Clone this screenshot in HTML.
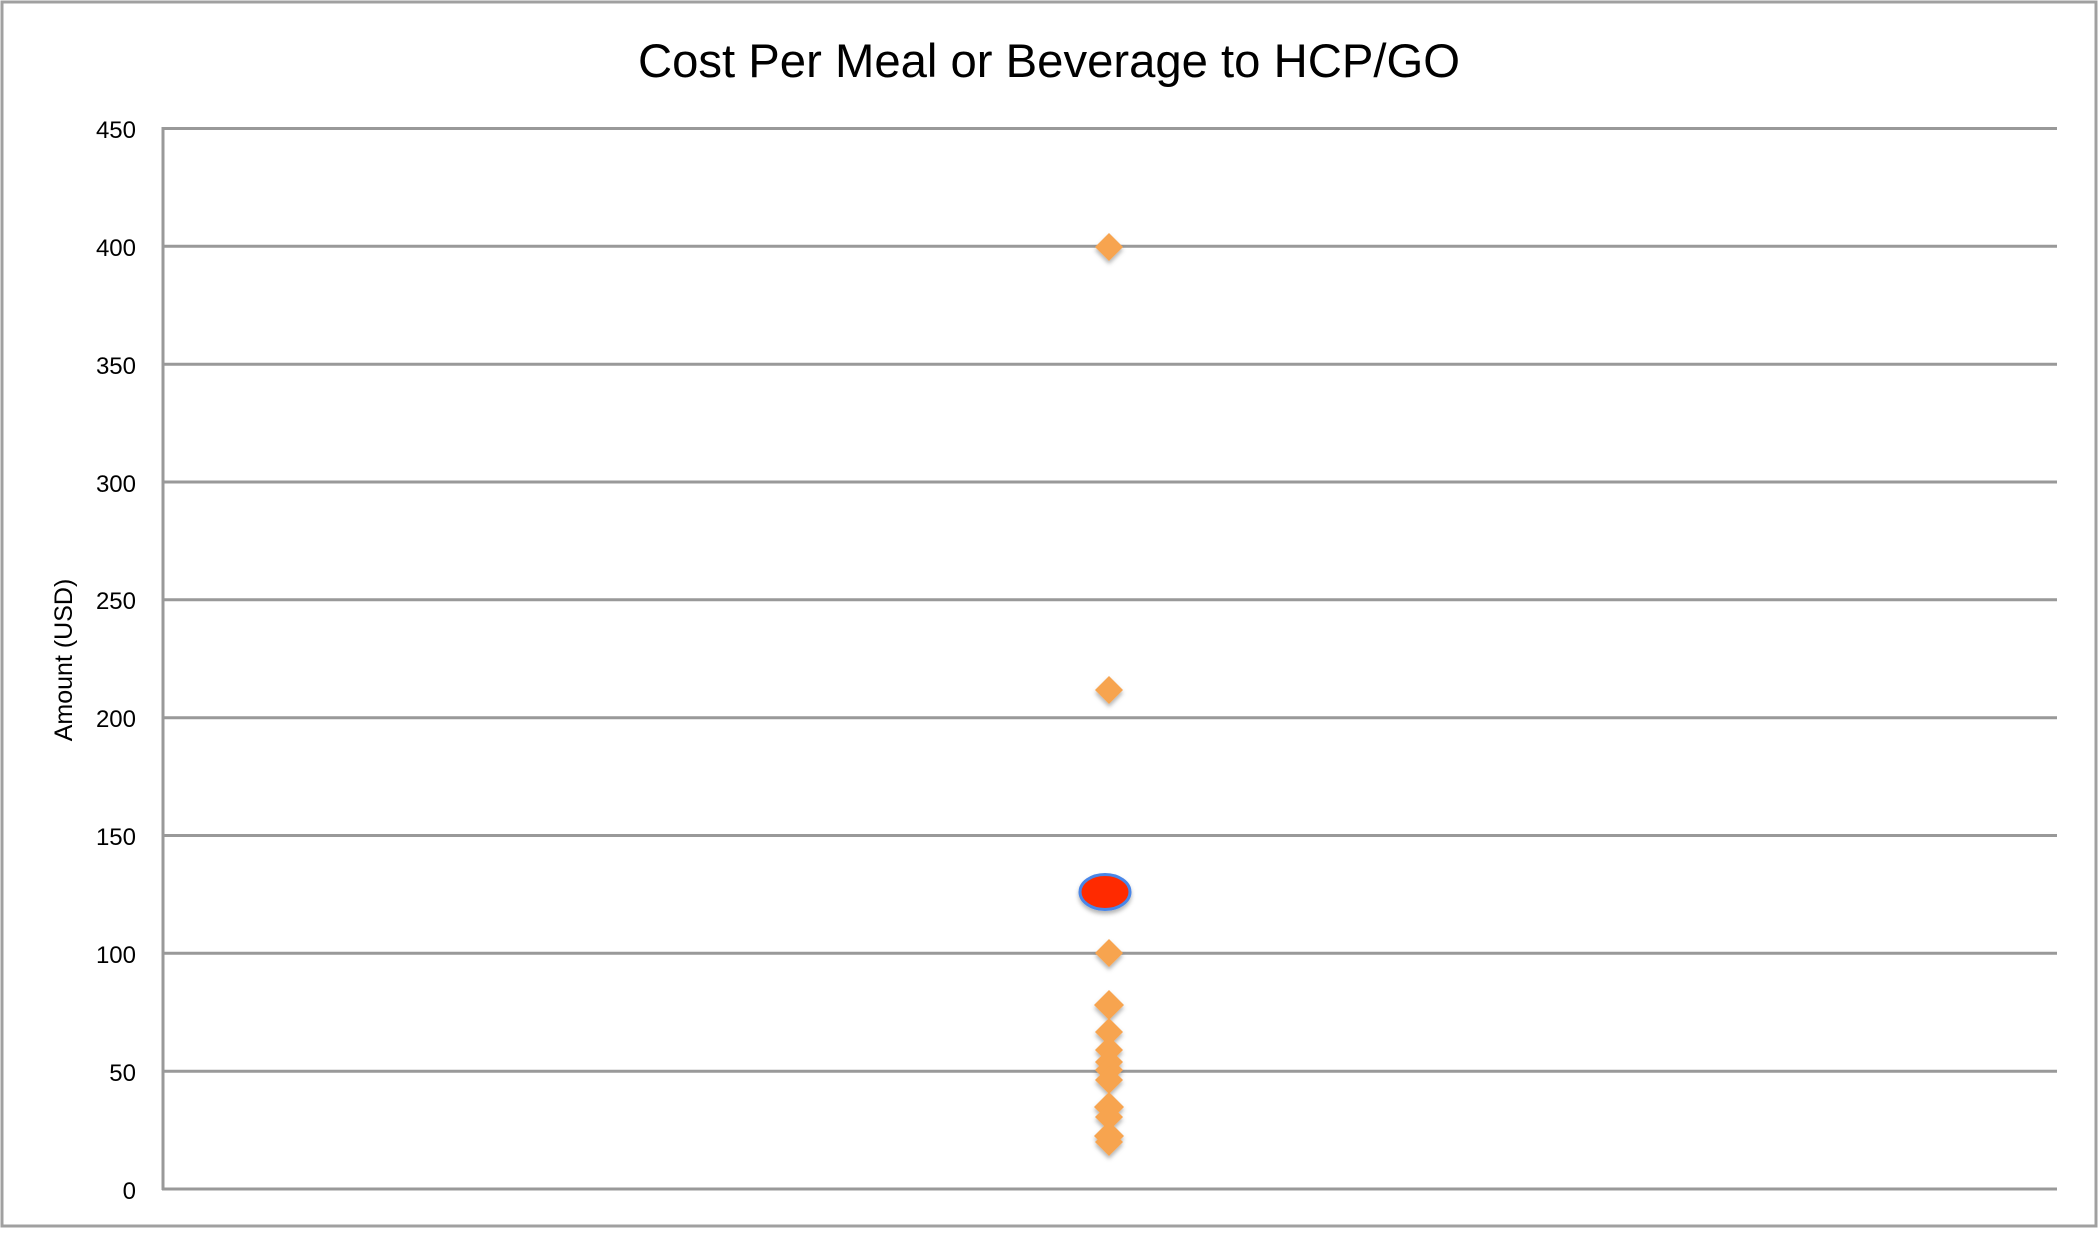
<!DOCTYPE html>
<html><head><style>body{margin:0;background:#fff}</style></head><body>
<svg width="2099" height="1229" xmlns="http://www.w3.org/2000/svg" font-family="Liberation Sans, sans-serif">
<defs><filter id="s" x="-50%" y="-50%" width="200%" height="200%"><feDropShadow dx="0" dy="3" stdDeviation="2" flood-color="#000" flood-opacity="0.3"/></filter></defs>
<rect x="2" y="2" width="2094" height="1224" fill="#fff" stroke="#a0a0a0" stroke-width="3"/>
<text x="1049" y="77" font-size="47" text-anchor="middle" fill="#000" textLength="822" lengthAdjust="spacingAndGlyphs">Cost Per Meal or Beverage to HCP/GO</text>
<g stroke="#999" stroke-width="3">
<line x1="162" y1="128.5" x2="2057" y2="128.5"/>
<line x1="162" y1="246.3" x2="2057" y2="246.3"/>
<line x1="162" y1="364.2" x2="2057" y2="364.2"/>
<line x1="162" y1="482" x2="2057" y2="482"/>
<line x1="162" y1="599.8" x2="2057" y2="599.8"/>
<line x1="162" y1="717.7" x2="2057" y2="717.7"/>
<line x1="162" y1="835.5" x2="2057" y2="835.5"/>
<line x1="162" y1="953.3" x2="2057" y2="953.3"/>
<line x1="162" y1="1071.2" x2="2057" y2="1071.2"/>
<line x1="162" y1="1189" x2="2057" y2="1189"/>
<line x1="163" y1="127" x2="163" y2="1190"/>
</g>
<g font-size="24" text-anchor="end" fill="#000">
<text x="136" y="138">450</text><text x="136" y="256">400</text><text x="136" y="374">350</text>
<text x="136" y="492">300</text><text x="136" y="609">250</text><text x="136" y="727">200</text>
<text x="136" y="845">150</text><text x="136" y="963">100</text><text x="136" y="1081">50</text>
<text x="136" y="1199">0</text>
</g>
<text transform="translate(72,660) rotate(-90)" font-size="25" text-anchor="middle" fill="#000">Amount (USD)</text>
<g fill="#f7a44f" filter="url(#s)">
<path d="M1109 233l14 14-14 14-14-14z"/>
<path d="M1109 676l14 14-14 14-14-14z"/>
<path d="M1109 939l14 14-14 14-14-14z"/>
<path d="M1109 990l15 15-15 15-15-15z"/>
<path d="M1109 1018l14 14-14 14-14-14z"/>
<path d="M1109 1036l14 14-14 14-14-14z"/>
<path d="M1109 1048l14 14-14 14-14-14z"/>
<path d="M1109 1056l14 14-14 14-14-14z"/>
<path d="M1109 1066l14 14-14 14-14-14z"/>
<path d="M1109 1092l15 15-15 15-15-15z"/>
<path d="M1109 1103l14 14-14 14-14-14z"/>
<path d="M1109 1121l15 15-15 15-15-15z"/>
<path d="M1109 1128l14 14-14 14-14-14z"/>
</g>
<ellipse cx="1105" cy="892" rx="25" ry="17.5" fill="#ff2a00" stroke="#4a86e8" stroke-width="3" filter="url(#s)"/>
</svg>
</body></html>
